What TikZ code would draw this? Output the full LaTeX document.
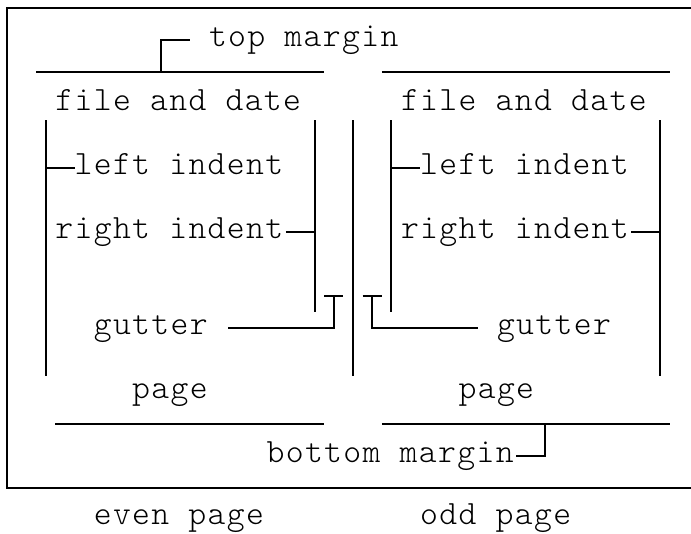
\documentclass[tikz,border=0pt]{standalone}
\usepackage{fontspec}
\newfontfamily\courfont[LetterSpace=4]{Latin Modern Mono Light}
\tikzset{
  lbl/.style={font=\courfont\fontsize{34}{34}\selectfont, inner sep=0pt, outer sep=0pt, anchor=base west},
  rule/.style={line width=2pt, line cap=butt, line join=miter},
}
\begin{document}
\begin{tikzpicture}
\useasboundingbox (0,0) rectangle (691pt,-533pt);
\begin{scope}[shift={(7.4pt,-8pt)}, x=19.2pt, y=-32pt]
% texts (column start, baseline = row + 0.2)
\node[lbl] (topm)  at (10.5,1.2) {top margin};
\node[lbl] (fdL)   at (2.5,3.2)  {file and date};
\node[lbl] (fdR)   at (20.5,3.2) {file and date};
\node[lbl] (liL)   at (3.5,5.2)  {left indent};
\node[lbl] (liR)   at (21.5,5.2) {left indent};
\node[lbl] (riL)   at (2.5,7.2)  {right indent};
\node[lbl] (riR)   at (20.5,7.2) {right indent};
\node[lbl] (guL)   at (4.5,10.2) {gutter};
\node[lbl] (guR)   at (25.5,10.2) {gutter};
\node[lbl] (pgL)   at (6.5,12.2) {page};
\node[lbl] (pgR)   at (23.5,12.2) {page};
\node[lbl] (botm)  at (13.5,14.2) {bottom margin};
\node[lbl] (even)  at (4.5,16.15) {even page};
\node[lbl] (odd)   at (21.5,16.15) {odd page};
% outer frame
\draw[rule] (35.6,0) -- (0,0) -- (0,15) -- (35.6,15);
% top margin lines and bracket
\draw[rule] (1.5,2) -- (16.5,2);
\draw[rule] (19.5,2) -- (34.5,2);
\draw[rule] (8,2) -- (8,1) -- (9.5,1);
% page verticals
\draw[rule] (2,3.5) -- (2,11.5);
\draw[rule] (16,3.5) -- (16,9.5);
\draw[rule] (18,3.5) -- (18,11.5);
\draw[rule] (20,3.5) -- (20,9.5);
\draw[rule] (34,3.5) -- (34,11.5);
% indent ticks
\draw[rule] (2,5) -- (liL.west |- 0,5);
\draw[rule] (20,5) -- (liR.west |- 0,5);
\draw[rule] (14.5,7) -- (16,7);
\draw[rule] (32.5,7) -- (34,7);
% gutter connectors
\draw[rule] (16.5,9) -- (17.5,9);
\draw[rule] (11.5,10) -- (17,10) -- (17,9);
\draw[rule] (18.5,9) -- (19.5,9);
\draw[rule] (19,9) -- (19,10) -- (24.5,10);
% bottom margin lines and bracket
\draw[rule] (2.5,13) -- (16.5,13);
\draw[rule] (19.5,13) -- (34.5,13);
\draw[rule] (28,13) -- (28,14) -- (26.5,14);
\end{scope}
\end{tikzpicture}
\end{document}
